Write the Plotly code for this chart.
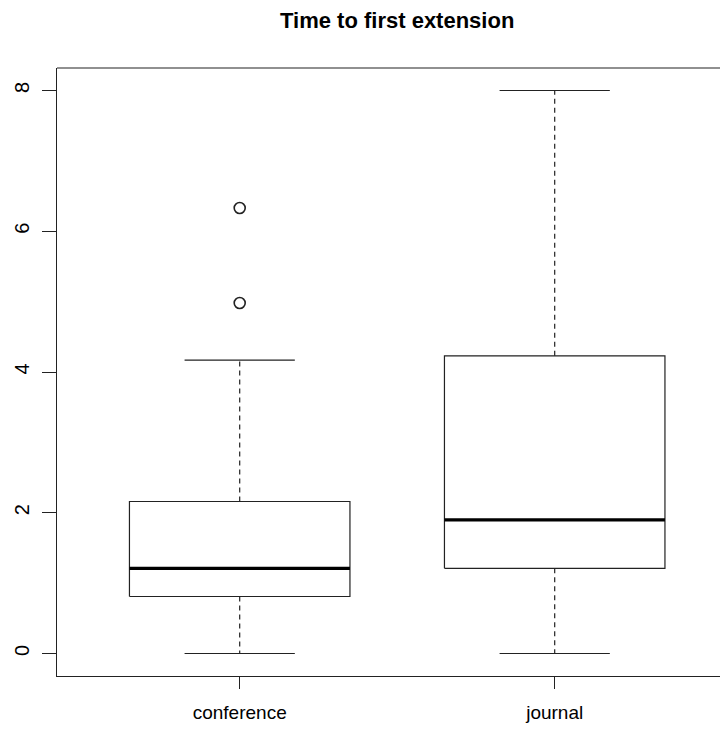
import plotly.graph_objects as go

categories = ["conference", "journal"]
positions = [1, 2]
lower_whisker = [0.0, 0.0]
q1 = [0.81, 1.21]
median = [1.21, 1.90]
q3 = [2.16, 4.23]
upper_whisker = [4.17, 8.0]
outliers = [[4.98, 6.33], []]

y_ticks = [0, 2, 4, 6, 8]

BOX_HALF = 0.35
CAP_HALF = 0.175
LINE = "#222222"

fig = go.Figure()
for i, c in enumerate(positions):
    # box
    fig.add_trace(go.Scatter(
        x=[c - BOX_HALF, c + BOX_HALF, c + BOX_HALF, c - BOX_HALF, c - BOX_HALF],
        y=[q1[i], q1[i], q3[i], q3[i], q1[i]],
        mode="lines", line=dict(color=LINE, width=1.2), hoverinfo="skip", showlegend=False))
    # median
    fig.add_trace(go.Scatter(
        x=[c - BOX_HALF, c + BOX_HALF], y=[median[i], median[i]],
        mode="lines", line=dict(color="black", width=3.2), hoverinfo="skip", showlegend=False))
    # whiskers (dashed)
    fig.add_trace(go.Scatter(
        x=[c, c, None, c, c], y=[q3[i], upper_whisker[i], None, q1[i], lower_whisker[i]],
        mode="lines", line=dict(color=LINE, width=1.2, dash="5px,4px"), hoverinfo="skip", showlegend=False))
    # caps
    fig.add_trace(go.Scatter(
        x=[c - CAP_HALF, c + CAP_HALF, None, c - CAP_HALF, c + CAP_HALF],
        y=[upper_whisker[i], upper_whisker[i], None, lower_whisker[i], lower_whisker[i]],
        mode="lines", line=dict(color=LINE, width=1.2), hoverinfo="skip", showlegend=False))
    if outliers[i]:
        fig.add_trace(go.Scatter(
            x=[c] * len(outliers[i]), y=outliers[i], mode="markers",
            marker=dict(symbol="circle-open", size=11, color=LINE, line=dict(width=1.6)),
            showlegend=False))

# the page body has an 8px margin, so the figure is offset by 8px
fig.update_layout(
    width=720, height=721,
    margin=dict(l=49, r=0, t=60, b=53),
    paper_bgcolor="white", plot_bgcolor="white",
    font=dict(family="Liberation Sans, Arial, sans-serif", color="black"),
    title=dict(text="<b>Time to first extension</b>", x=0.507, xref="paper", xanchor="center",
               y=1 - 12 / 721, yref="container", yanchor="middle", font=dict(size=22)),
    xaxis=dict(range=[0.42, 0.42 + 671 / 315], tickvals=positions, ticktext=categories,
               showgrid=False, zeroline=False, showline=True, linecolor=LINE, linewidth=1.2,
               ticks="outside", ticklen=12, tickcolor=LINE, tickwidth=1.2, ticklabelstandoff=7,
               tickfont=dict(size=19), fixedrange=True),
    yaxis=dict(range=[-0.32, 8.32], tickvals=y_ticks, ticktext=[str(v) for v in y_ticks],
               showgrid=False, zeroline=False, showline=True, linecolor=LINE, linewidth=1.2,
               ticks="outside", ticklen=14, tickcolor=LINE, tickwidth=1.2, tickangle=-90,
               ticklabelstandoff=5, tickfont=dict(size=20), fixedrange=True),
    shapes=[dict(type="line", xref="paper", yref="paper", x0=0, x1=1, y0=1, y1=1,
                 line=dict(color=LINE, width=1.2))],
)

fig.write_html("out.html")
